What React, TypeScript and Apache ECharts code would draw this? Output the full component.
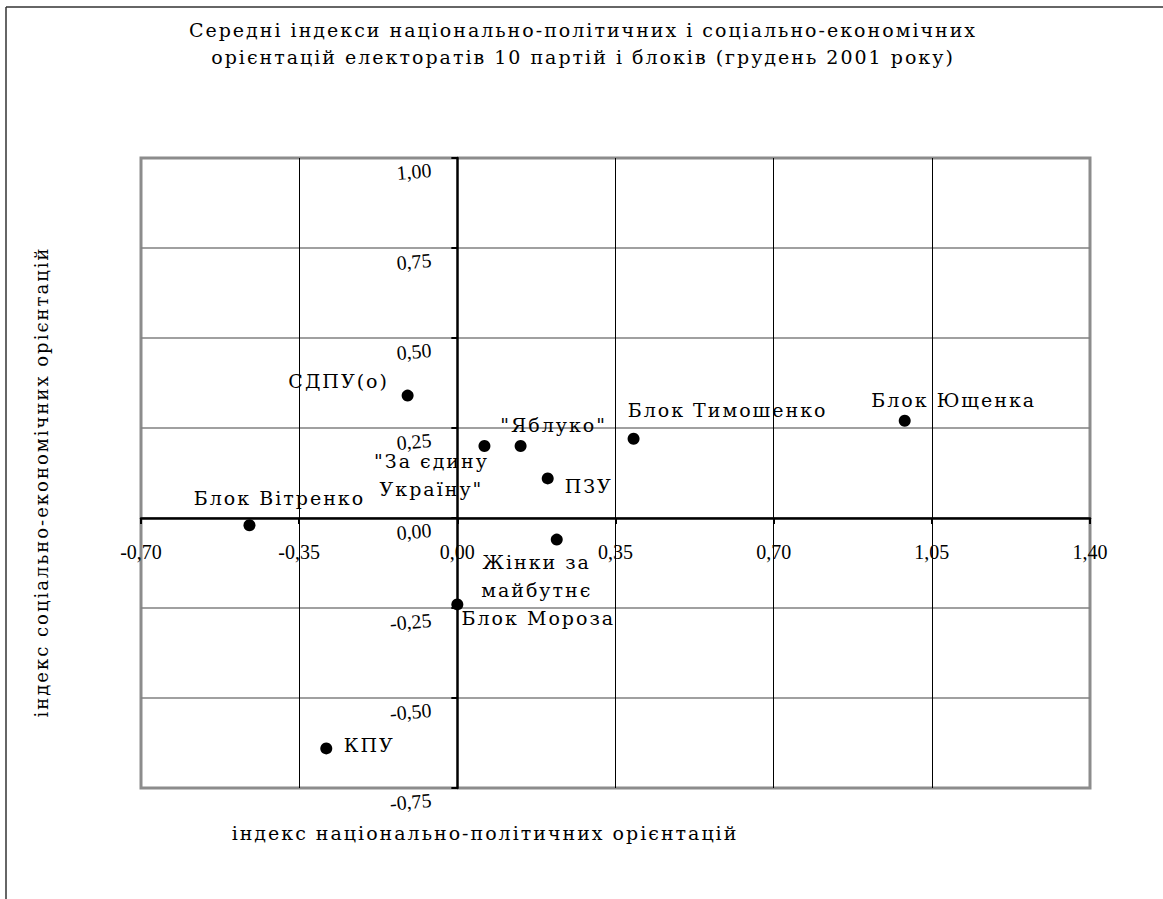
import React, { useEffect, useRef } from "react";
import * as echarts from "echarts";

const parties = [
  "СДПУ(о)",
  "\"За єдину\nУкраїну\"",
  "\"Яблуко\"",
  "ПЗУ",
  "Блок Тимошенко",
  "Блок Ющенка",
  "Блок Вітренко",
  "Жінки за\nмайбутнє",
  "Блок Мороза",
  "КПУ",
];
const nationalIndex = [-0.11, 0.06, 0.14, 0.2, 0.39, 0.99, -0.46, 0.22, 0.0, -0.29];
const socialIndex = [0.34, 0.2, 0.2, 0.11, 0.22, 0.27, -0.02, -0.06, -0.24, -0.64];

const xMin = -0.7;
const xMax = 1.4;
const xStep = 0.35;
const yMin = -0.75;
const yMax = 1.0;
const yStep = 0.25;

const titleText =
  "Середні індекси національно-політичних і соціально-економічних\nорієнтацій електоратів 10 партій і блоків (грудень 2001 року)";
const xName = "індекс національно-політичних орієнтацій";
const yName = "індекс соціально-економічних орієнтацій";

// label placement (pixels relative to the marker), styling only
const labelOffsets: [number, number][] = [
  [-69, -15],
  [-53, 29],
  [33, -21],
  [41, 8],
  [94, -29],
  [49, -21],
  [30, -27],
  [-20, 36],
  [81, 14],
  [43, -3],
];

const fmt = (v: number) => {
  const r = Math.abs(v) < 1e-9 ? 0 : v;
  return r.toFixed(2).replace(".", ",");
};

const GRID_LEFT = 141;
const GRID_RIGHT = 73;
const GRID_TOP = 158;
const GRID_BOTTOM = 111;
const W = 1163;
const H = 899;

export default function App() {
  const ref = useRef<HTMLDivElement>(null);
  useEffect(() => {
    if (!ref.current) return;
    const chart = echarts.init(ref.current, null, { renderer: "svg" });
    const serif = "DejaVu Serif";
    const tickFont = "Liberation Serif";
    const plotW = W - GRID_LEFT - GRID_RIGHT;
    const plotH = H - GRID_TOP - GRID_BOTTOM;
    // shift axes so that they cross at the origin (0, 0)
    const yAxisShift = ((0 - xMin) / (xMax - xMin)) * plotW;
    const xAxisShift = ((0 - yMin) / (yMax - yMin)) * plotH;
    chart.setOption({
      animation: false,
      backgroundColor: "#fff",
      title: {
        text: titleText,
        left: 578,
        top: 11,
        textAlign: "center",
        textStyle: {
          fontFamily: serif,
          fontSize: 19,
          fontWeight: "normal",
          color: "#000",
          lineHeight: 27,
        },
      },
      grid: {
        left: GRID_LEFT,
        right: GRID_RIGHT,
        top: GRID_TOP,
        bottom: GRID_BOTTOM,
        show: true,
        borderColor: "#8c8c8c",
        borderWidth: 3,
        backgroundColor: "#fff",
      },
      xAxis: {
        type: "value",
        min: xMin,
        max: xMax,
        interval: xStep,
        offset: -xAxisShift,
        axisLine: { show: true, onZero: false, lineStyle: { color: "#000", width: 2.5 } },
        axisTick: { show: true, length: 6, lineStyle: { color: "#000", width: 2 } },
        axisLabel: {
          formatter: fmt,
          margin: 24,
          fontFamily: tickFont,
          fontSize: 20,
          color: "#000",
          showMinLabel: true,
          showMaxLabel: true,
        },
        splitLine: {
          show: true,
          showMinLine: false,
          showMaxLine: false,
          lineStyle: { color: "#000", width: 1 },
        },
      },
      yAxis: {
        type: "value",
        min: yMin,
        max: yMax,
        interval: yStep,
        offset: -yAxisShift,
        axisLine: { show: true, onZero: false, lineStyle: { color: "#000", width: 2.5 } },
        axisTick: { show: true, length: 6, lineStyle: { color: "#000", width: 2 } },
        axisLabel: {
          formatter: fmt,
          margin: 27,
          fontFamily: tickFont,
          fontSize: 20,
          color: "#000",
          align: "right",
          verticalAlign: "top",
          padding: [2, 0, 0, 0],
          rotate: 5,
          showMinLabel: true,
          showMaxLabel: true,
        },
        splitLine: {
          show: true,
          showMinLine: false,
          showMaxLine: false,
          lineStyle: { color: "#808080", width: 1.5 },
        },
      },
      graphic: [
        {
          type: "line",
          shape: { x1: 6, y1: 7, x2: 6, y2: 899 },
          style: { stroke: "#333", lineWidth: 1.5 },
        },
        {
          type: "line",
          shape: { x1: 6, y1: 7, x2: 1163, y2: 7 },
          style: { stroke: "#333", lineWidth: 1.5 },
        },
        {
          type: "text",
          x: 485,
          y: 833,
          style: {
            text: xName,
            fontFamily: serif,
            fontSize: 19,
            fill: "#000",
            align: "center",
            verticalAlign: "middle",
          },
        },
        {
          type: "text",
          x: 41,
          y: 482,
          rotation: Math.PI / 2,
          style: {
            text: yName,
            fontFamily: serif,
            fontSize: 18,
            fill: "#000",
            align: "center",
            verticalAlign: "middle",
          },
        },
      ],
      series: [
        {
          type: "scatter",
          symbol: "circle",
          symbolSize: 12,
          itemStyle: { color: "#000", opacity: 1 },
          data: parties.map((p, i) => ({
            name: p,
            value: [nationalIndex[i], socialIndex[i]],
            label: { offset: labelOffsets[i] },
          })),
          label: {
            show: true,
            position: "inside",
            formatter: "{b}",
            fontFamily: serif,
            fontSize: 19,
            lineHeight: 28,
            color: "#000",
            align: "center",
            verticalAlign: "middle",
          },
          emphasis: { disabled: true },
        },
      ],
    });
    return () => chart.dispose();
  }, []);
  return (
    <>
      <style>{`.chartbox text[style*="Liberation"] { letter-spacing: 0px; }`}</style>
      <div
        ref={ref}
        className="chartbox"
        style={{
          position: "absolute",
          left: 0,
          top: 0,
          width: W,
          height: H,
          letterSpacing: "2px",
        }}
      />
    </>
  );
}
